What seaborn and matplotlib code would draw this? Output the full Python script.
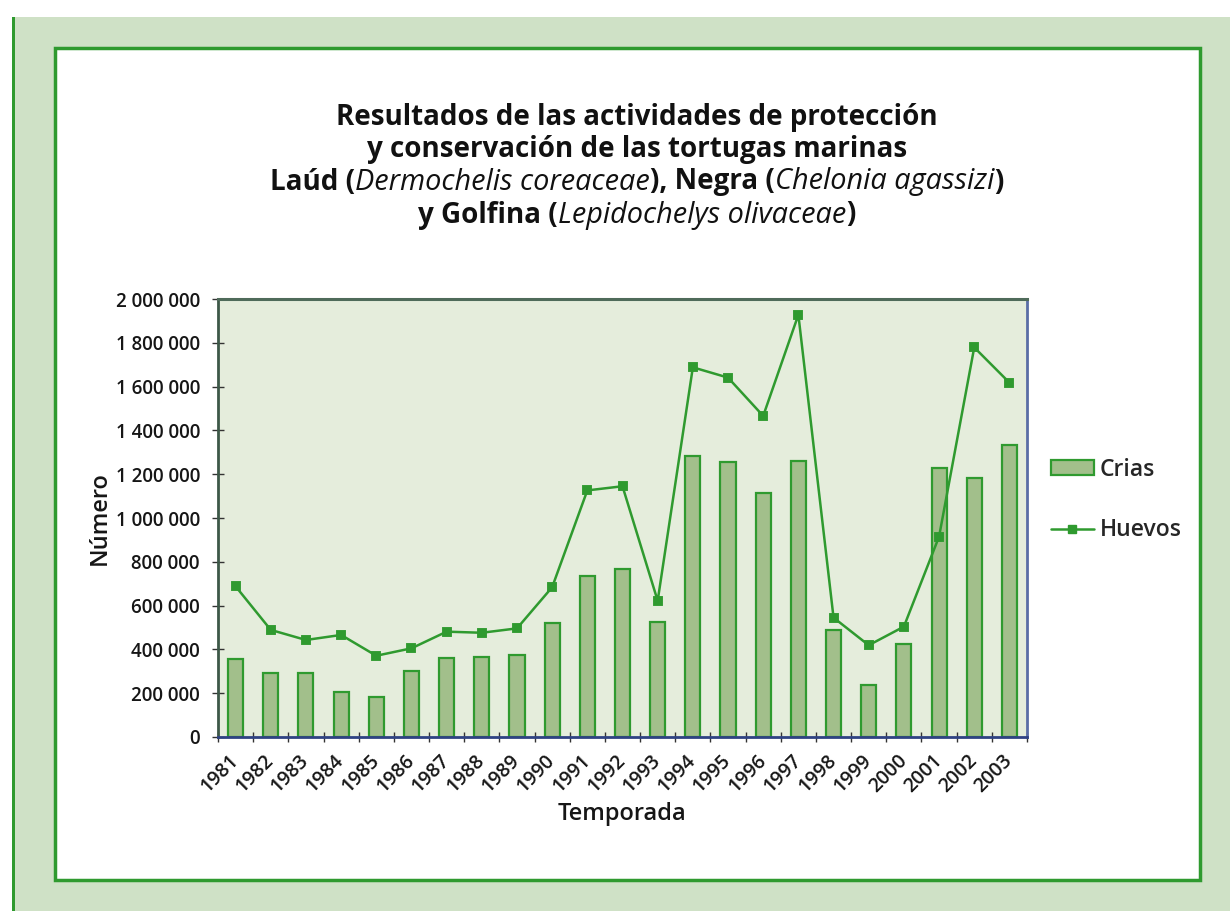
import numpy as np
import pandas as pd
import matplotlib
matplotlib.use("Agg")
import matplotlib.pyplot as plt
import seaborn as sns
from matplotlib.patches import Rectangle, Patch
from matplotlib.lines import Line2D
from matplotlib.offsetbox import TextArea, HPacker, AnnotationBbox
from matplotlib.ticker import FixedLocator, FuncFormatter

# --- data -------------------------------------------------------------
temporadas = [str(y) for y in range(1981, 2004)]
crias = [356000, 292000, 292000, 205000, 184000, 301000, 362000, 365000,
         374000, 522000, 737000, 766000, 527000, 1285000, 1254000, 1116000,
         1260000, 489000, 237000, 423000, 1230000, 1184000, 1333000]
huevos = [688000, 489000, 443000, 466000, 371000, 405000, 481000, 476000,
          496000, 684000, 1126000, 1145000, 622000, 1688000, 1641000, 1466000,
          1928000, 545000, 419000, 504000, 915000, 1779000, 1618000]
y_ticks = [0, 200000, 400000, 600000, 800000, 1000000, 1200000, 1400000,
           1600000, 1800000, 2000000]

df = pd.DataFrame({"Temporada": temporadas, "Crias": crias, "Huevos": huevos})

# --- style ------------------------------------------------------------
sns.set_theme(style="white")
plt.rcParams["font.family"] = ["Open Sans", "DejaVu Sans"]

GREEN = "#2f9a2f"
BAR_FILL = "#a2bf8b"
PLOT_BG = "#e5eddc"
BAND = "#cfe1c6"
INK = "#161616"
LABEL_WEIGHT = "semibold"

W, H = 1230, 911
fig = plt.figure(figsize=(W / 100, H / 100), dpi=100)
fig.patch.set_facecolor("white")


def fx(px):
    return px / W


def fy(py):
    return 1 - py / H


# decorative frame: light green band, dark left rule, white inner panel
fig.patches.append(Rectangle((fx(13), 0), 1 - fx(13), fy(17), transform=fig.transFigure,
                             facecolor=BAND, edgecolor="none", zorder=0))
fig.patches.append(Rectangle((fx(12), 0), fx(3), fy(17), transform=fig.transFigure,
                             facecolor=GREEN, edgecolor="none", zorder=1))
fig.patches.append(Rectangle((fx(55), fy(880)), fx(1200 - 55), (880 - 48) / H,
                             transform=fig.transFigure, facecolor="white",
                             edgecolor=GREEN, linewidth=2.5, zorder=1))

# --- axes -------------------------------------------------------------
ax = fig.add_axes([fx(218), fy(737), fx(1027 - 218), (737 - 299) / H], zorder=3)
ax.set_facecolor(PLOT_BG)

sns.barplot(data=df, x="Temporada", y="Crias", color=BAR_FILL, saturation=1,
            width=0.43, edgecolor=GREEN, linewidth=1.6, errorbar=None, ax=ax)
sns.pointplot(data=df, x="Temporada", y="Huevos", color=GREEN, markers="s",
              markersize=6, linewidth=1.8, errorbar=None, ax=ax)

ax.set_ylim(0, 2000000)
ax.set_xlim(-0.5, len(temporadas) - 0.5)
ax.yaxis.set_major_locator(FixedLocator(y_ticks))
ax.yaxis.set_major_formatter(FuncFormatter(lambda v, _: f"{int(v):,}".replace(",", " ")))
ax.tick_params(axis="y", which="major", direction="inout", length=8, width=1,
               color="#333333", labelsize=13.5, pad=9, left=True)

ax.set_xticks(range(len(temporadas)))
ax.set_xticks(np.arange(-0.5, len(temporadas), 1.0), minor=True)
ax.tick_params(axis="x", which="major", length=0, pad=15, labelsize=14)
ax.tick_params(axis="x", which="minor", direction="inout", length=7, width=1,
               color="#333333", bottom=True)
for lab in ax.get_xticklabels():
    lab.set_rotation(45)
    lab.set_ha("right")
    lab.set_va("center")
    lab.set_rotation_mode("anchor")

for lab in ax.get_xticklabels() + ax.get_yticklabels():
    lab.set_color(INK)
    lab.set_fontweight(LABEL_WEIGHT)

ax.set_xlabel("Temporada", fontsize=17, color=INK, fontweight=LABEL_WEIGHT, labelpad=4)
ax.set_ylabel("Número", fontsize=17, color=INK, fontweight=LABEL_WEIGHT, labelpad=3)

for side, col, lw in [("top", "#4f6b5a", 2.2), ("right", "#5a6ea6", 2.0),
                      ("bottom", "#2f4283", 2.0), ("left", "#3d5848", 2.0)]:
    ax.spines[side].set_visible(True)
    ax.spines[side].set_color(col)
    ax.spines[side].set_linewidth(lw)

# --- legend -----------------------------------------------------------
handles = [Patch(facecolor=BAR_FILL, edgecolor=GREEN, linewidth=1.6),
           Line2D([0], [0], color=GREEN, linewidth=1.8, marker="s", markersize=6)]
fig.legend(handles, ["Crias", "Huevos"], loc="upper left",
           bbox_to_anchor=(fx(1030), fy(437)), frameon=False,
           prop=dict(size=16.5, weight=LABEL_WEIGHT),
           handlelength=1.9, handleheight=0.6, handletextpad=0.25, labelspacing=1.6)

# --- title with mixed bold / italic runs ------------------------------
TS = 20
title_lines = [
    [("Resultados de las actividades de protección", "bold", "normal")],
    [("y conservación de las tortugas marinas", "bold", "normal")],
    [("Laúd (", "bold", "normal"), ("Dermochelis coreaceae", "normal", "italic"),
     ("), Negra (", "bold", "normal"), ("Chelonia agassizi", "normal", "italic"),
     (")", "bold", "normal")],
    [("y Golfina (", "bold", "normal"), ("Lepidochelys olivaceae", "normal", "italic"),
     (")", "bold", "normal")],
]
line_y = [117, 150, 182, 215]
for runs, py in zip(title_lines, line_y):
    boxes = [TextArea(t, textprops=dict(fontsize=TS * (1.04 if s == "italic" else 1.0),
                                         fontweight=w, fontstyle=s, color="#111111"))
             for t, w, s in runs]
    pack = HPacker(children=boxes, align="baseline", pad=0, sep=0)
    ab = AnnotationBbox(pack, (fx(637), fy(py)), xycoords="figure fraction",
                        frameon=False, box_alignment=(0.5, 0.5), pad=0)
    fig.add_artist(ab)

fig.savefig("out.png", dpi=100)
